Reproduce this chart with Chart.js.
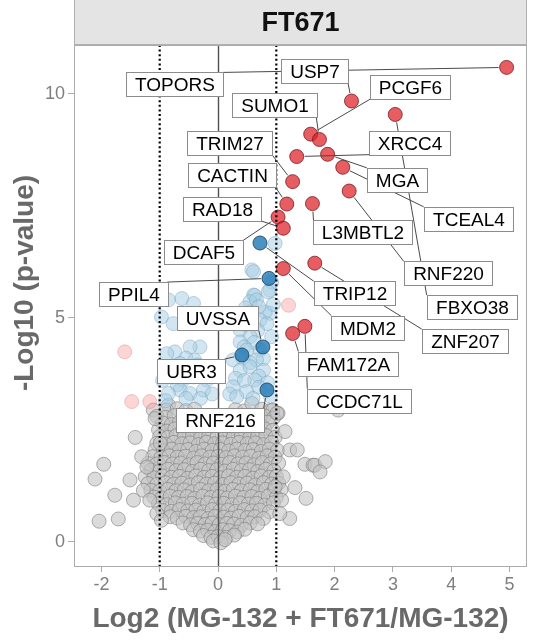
<!DOCTYPE html>
<html>
<head>
<meta charset="utf-8">
<script src="https://cdn.jsdelivr.net/npm/chart.js@4.4.1/dist/chart.umd.min.js"></script>
<style>
  html, body { margin: 0; padding: 0; background: #ffffff; }
  #wrap { width: 541px; height: 640px; }
</style>
</head>
<body>
<div id="wrap"><canvas id="volcano" width="541" height="640"></canvas></div>
<script>
// ---- chart text ----
const panelTitle = 'FT671';
const xTitle = 'Log2 (MG-132 + FT671/MG-132)';
const yTitle = '-Log10 (p-value)';

// ---- axes ----
const xLimits = [-2.47, 5.3];
const yLimits = [-0.54, 11.09];
const xTickValues = [-2, -1, 0, 1, 2, 3, 4, 5];
const yTickValues = [0, 5, 10];
const foldChangeCutoffs = [-1, 1];

// ---- labelled hits, log2 fold change > 1 (red) ----
const strongGenes = ['TOPORS', 'USP7', 'FBXO38', 'PCGF6', 'SUMO1', 'MGA', 'XRCC4', 'TCEAL4', 'TRIM27',
  'RNF220', 'CACTIN', 'L3MBTL2', 'DCAF5', 'RAD18', 'ZNF207', 'MDM2', 'CCDC71L', 'FAM172A'];
const strongLog2FC = [4.95, 2.29, 3.04, 1.59, 1.74, 1.88, 1.35, 2.14, 1.28,
  2.25, 1.18, 1.62, 1.03, 1.12, 1.66, 1.12, 1.49, 1.28];
const strongNegLogP = [10.59, 9.84, 9.54, 9.10, 8.98, 8.65, 8.60, 8.36, 8.04,
  7.83, 7.54, 7.55, 7.25, 7.00, 6.22, 6.10, 4.81, 4.65];

// ---- labelled hits below the fold-change cutoff (blue) ----
const moderateGenes = ['TRIP12', 'PPIL4', 'UVSSA', 'UBR3', 'RNF216'];
const moderateLog2FC = [0.72, 0.875, 0.77, 0.41, 0.84];
const moderateNegLogP = [6.67, 5.88, 4.35, 4.17, 3.39];

// ---- unlabelled proteins: [log2 fold change, -log10 p] ----
const paleRedProteins = [[-1.60, 4.24], [-1.48, 3.13], [-1.17, 3.13], [1.21, 5.28]];

const paleBlueProteins = [
  [0.98, 6.66], [0.58, 6.07], [0.61, 6.03], [0.92, 5.80], [0.89, 5.62], [0.86, 5.58], [0.61, 5.51],
  [0.63, 5.50], [0.55, 5.36], [0.66, 5.40], [-0.62, 5.43], [-0.85, 5.40], [-0.42, 5.32], [-0.97, 5.02],
  [-0.77, 4.87], [0.89, 5.10], [0.81, 5.13], [0.55, 5.13], [0.58, 5.10], [0.95, 5.30], [0.70, 5.25],
  [0.47, 5.22], [0.38, 4.95], [0.72, 4.95], [0.84, 4.87], [0.47, 4.85], [0.68, 4.72], [0.92, 4.58],
  [0.38, 4.73], [0.55, 4.58], [0.62, 4.45], [0.38, 4.46], [0.45, 4.35], [0.49, 4.28], [0.72, 4.28],
  [0.78, 4.09], [0.66, 4.06], [0.42, 4.10], [0.55, 4.00], [0.26, 4.06], [0.38, 3.83], [0.55, 3.91],
  [0.78, 3.83], [0.70, 3.70], [0.30, 3.65], [0.63, 3.61], [0.45, 3.60], [0.85, 3.55], [0.70, 3.45],
  [0.26, 3.46], [0.49, 3.35], [0.20, 3.30], [0.32, 3.24], [0.60, 3.20], [0.90, 3.25],
  [-0.31, 4.35], [-0.48, 4.35], [-0.74, 4.24], [-0.88, 4.20], [-0.55, 4.10], [-0.40, 4.05],
  [-0.65, 3.98], [-0.35, 3.95], [-0.82, 3.91], [-0.20, 3.85], [-0.77, 3.68], [-0.42, 3.68],
  [-0.60, 3.61], [-0.19, 3.61], [-0.95, 3.60], [-0.70, 3.50], [-0.25, 3.39], [-0.65, 3.39],
  [-0.48, 3.31], [-0.85, 3.31], [-0.10, 3.30], [-0.30, 3.20], [-0.55, 3.20], [-0.90, 3.15]
];

const greyProteins = [
  // upper rim of the cloud
  [-1.11, 2.94], [-0.85, 3.05], [-0.88, 2.94], [-0.70, 2.97], [-0.55, 2.93], [-0.40, 2.96],
  [0.30, 2.95], [0.45, 2.92], [0.58, 3.09], [0.75, 2.96], [0.90, 2.93], [1.03, 2.87], [0.94, 2.94],
  [-1.05, 2.80], [-0.90, 2.78], [-0.75, 2.82], [-0.60, 2.77], [-0.45, 2.81], [-0.30, 2.79],
  [0.20, 2.80], [0.35, 2.77], [0.50, 2.82], [0.65, 2.79], [0.80, 2.81], [0.95, 2.76],
  [-0.95, 2.65], [-0.80, 2.62], [-0.66, 2.67], [-0.52, 2.63], [-0.38, 2.66], [-0.24, 2.62],
  [0.16, 2.64], [0.30, 2.67], [0.44, 2.62], [0.58, 2.66], [0.72, 2.63], [0.86, 2.67],
  [-1.02, 2.50], [-0.88, 2.47], [-0.74, 2.52], [-0.60, 2.49], [-0.46, 2.51], [-0.32, 2.48],
  [-0.18, 2.52], [0.10, 2.49], [0.24, 2.52], [0.38, 2.47], [0.52, 2.51], [0.66, 2.48], [0.80, 2.52],
  [0.94, 2.49],
  // body of the cloud
  [-1.00, 2.35], [-0.86, 2.33], [-0.72, 2.37], [-0.58, 2.34], [-0.44, 2.36], [-0.30, 2.32],
  [-0.16, 2.36], [-0.02, 2.34], [0.12, 2.37], [0.26, 2.33], [0.40, 2.36], [0.54, 2.32], [0.68, 2.35],
  [0.82, 2.37], [0.98, 2.33],
  [-1.05, 2.20], [-0.90, 2.18], [-0.76, 2.22], [-0.62, 2.19], [-0.48, 2.21], [-0.34, 2.17],
  [-0.20, 2.22], [-0.06, 2.19], [0.08, 2.21], [0.22, 2.18], [0.36, 2.22], [0.50, 2.19], [0.64, 2.21],
  [0.78, 2.17], [0.92, 2.22],
  [-1.08, 2.05], [-0.94, 2.03], [-0.80, 2.07], [-0.66, 2.04], [-0.52, 2.06], [-0.38, 2.02],
  [-0.24, 2.07], [-0.10, 2.04], [0.04, 2.06], [0.18, 2.03], [0.32, 2.07], [0.46, 2.04], [0.60, 2.06],
  [0.74, 2.02], [0.88, 2.07], [1.02, 2.04],
  [-1.12, 1.90], [-0.98, 1.88], [-0.84, 1.92], [-0.70, 1.89], [-0.56, 1.91], [-0.42, 1.87],
  [-0.28, 1.92], [-0.14, 1.89], [0.00, 1.91], [0.14, 1.88], [0.28, 1.92], [0.42, 1.89], [0.56, 1.91],
  [0.70, 1.87], [0.84, 1.92], [0.98, 1.89],
  [-1.20, 1.75], [-1.06, 1.73], [-0.92, 1.77], [-0.78, 1.74], [-0.64, 1.76], [-0.50, 1.72],
  [-0.36, 1.77], [-0.22, 1.74], [-0.08, 1.76], [0.06, 1.73], [0.20, 1.77], [0.34, 1.74], [0.48, 1.76],
  [0.62, 1.72], [0.76, 1.77], [0.90, 1.74], [1.04, 1.76],
  [-1.15, 1.60], [-1.00, 1.58], [-0.86, 1.62], [-0.72, 1.59], [-0.58, 1.61], [-0.44, 1.57],
  [-0.30, 1.62], [-0.16, 1.59], [-0.02, 1.61], [0.12, 1.58], [0.26, 1.62], [0.40, 1.59], [0.54, 1.61],
  [0.68, 1.57], [0.82, 1.62], [0.96, 1.59],
  [-1.25, 1.45], [-1.10, 1.43], [-0.95, 1.47], [-0.80, 1.44], [-0.66, 1.46], [-0.52, 1.42],
  [-0.38, 1.47], [-0.24, 1.44], [-0.10, 1.46], [0.04, 1.43], [0.18, 1.47], [0.32, 1.44], [0.46, 1.46],
  [0.60, 1.42], [0.74, 1.47], [0.88, 1.44], [1.00, 1.46],
  [-1.20, 1.30], [-1.05, 1.28], [-0.90, 1.32], [-0.76, 1.29], [-0.62, 1.31], [-0.48, 1.27],
  [-0.34, 1.32], [-0.20, 1.29], [-0.06, 1.31], [0.08, 1.28], [0.22, 1.32], [0.36, 1.29], [0.50, 1.31],
  [0.64, 1.27], [0.78, 1.32], [0.92, 1.29], [1.04, 1.31],
  [-1.15, 1.15], [-1.00, 1.13], [-0.86, 1.17], [-0.72, 1.14], [-0.58, 1.16], [-0.44, 1.12],
  [-0.30, 1.17], [-0.16, 1.14], [-0.02, 1.16], [0.12, 1.13], [0.26, 1.17], [0.40, 1.14], [0.55, 1.16],
  [0.68, 1.12], [0.82, 1.17], [0.96, 1.14], [1.08, 1.16],
  [-1.10, 1.00], [-0.96, 0.98], [-0.82, 1.02], [-0.68, 0.99], [-0.53, 1.01], [-0.40, 0.97],
  [-0.26, 1.02], [-0.12, 0.99], [0.02, 1.01], [0.16, 0.98], [0.30, 1.02], [0.44, 0.99], [0.58, 1.01],
  [0.72, 0.97], [0.86, 1.02], [1.00, 0.99],
  [-1.02, 0.85], [-0.88, 0.83], [-0.73, 0.87], [-0.60, 0.84], [-0.45, 0.86], [-0.32, 0.82],
  [-0.18, 0.87], [-0.04, 0.84], [0.10, 0.86], [0.24, 0.83], [0.38, 0.87], [0.52, 0.84], [0.66, 0.86],
  [0.80, 0.82], [0.95, 0.87],
  [-0.95, 0.70], [-0.80, 0.68], [-0.66, 0.72], [-0.52, 0.69], [-0.38, 0.71], [-0.25, 0.67],
  [-0.10, 0.72], [0.03, 0.69], [0.17, 0.71], [0.30, 0.68], [0.45, 0.72], [0.58, 0.69], [0.72, 0.71],
  [0.88, 0.67],
  [-0.82, 0.56], [-0.70, 0.53], [-0.55, 0.57], [-0.42, 0.54], [-0.30, 0.56], [-0.17, 0.52],
  [-0.05, 0.57], [0.10, 0.55], [0.22, 0.53], [0.36, 0.57], [0.50, 0.54], [0.63, 0.56], [0.78, 0.52],
  [-0.60, 0.42], [-0.47, 0.38], [-0.35, 0.41], [-0.22, 0.39], [-0.10, 0.42], [0.02, 0.38],
  [0.15, 0.41], [0.27, 0.40], [0.40, 0.37], [0.55, 0.42], [0.68, 0.40],
  [-0.42, 0.27], [-0.30, 0.24], [-0.18, 0.26], [-0.05, 0.23], [0.08, 0.27], [0.20, 0.25],
  [0.33, 0.22], [0.46, 0.28],
  [-0.25, 0.14], [-0.12, 0.10], [0.00, 0.12], [0.14, 0.10], [0.28, 0.15],
  [-0.08, 0.02], [0.05, -0.02], [0.12, 0.05],
  // scattered left of the cloud
  [-1.42, 2.33], [-1.96, 1.73], [-2.11, 1.40], [-1.77, 1.04], [-2.04, 0.46], [-1.71, 0.51],
  [-1.51, 1.38], [-1.31, 1.90], [-1.22, 1.67], [-1.45, 0.93], [-1.28, 1.15], [-1.17, 0.93],
  [-1.08, 2.75], [-1.05, 0.63], [-0.99, 2.20], [-0.97, 0.48],
  // scattered right of the cloud
  [1.15, 2.46], [1.01, 2.87], [1.23, 2.05], [1.36, 2.05], [1.49, 1.73], [1.63, 1.71], [1.66, 1.71],
  [1.84, 1.79], [1.75, 1.56], [1.32, 1.21], [1.51, 0.97], [1.23, 0.52], [1.12, 1.45], [0.98, 1.23],
  [1.09, 0.93], [1.06, 0.63], [2.06, 2.94]
];

// ---- where each gene's label box is centred (axis units) ----
const labelPlacement = {
  TOPORS: [-0.75, 10.21], USP7: [1.66, 10.50], PCGF6: [3.30, 10.15], SUMO1: [0.96, 9.75],
  XRCC4: [3.29, 8.91], TRIM27: [0.20, 8.91], MGA: [3.07, 8.08], CACTIN: [0.23, 8.19],
  RAD18: [0.07, 7.43], TCEAL4: [4.29, 7.21], L3MBTL2: [2.49, 6.91], DCAF5: [-0.25, 6.46],
  RNF220: [3.94, 5.99], TRIP12: [2.34, 5.55], PPIL4: [-1.46, 5.53], FBXO38: [4.35, 5.24],
  MDM2: [2.57, 4.78], UVSSA: [0.00, 4.99], ZNF207: [4.23, 4.48], FAM172A: [2.24, 3.98],
  UBR3: [-0.47, 3.81], CCDC71L: [2.42, 3.15], RNF216: [0.03, 2.71]
};

// ---- drawing ----
const FONT = '"Liberation Sans", Arial, Helvetica, sans-serif';
const POINT_R = 7;

const toXY = pairs => pairs.map(([x, y]) => ({ x, y }));
const strongPoints = strongGenes.map((g, i) => ({ x: strongLog2FC[i], y: strongNegLogP[i], name: g }));
const moderatePoints = moderateGenes.map((g, i) => ({ x: moderateLog2FC[i], y: moderateNegLogP[i], name: g }));

function pointSet(label, data, fill, edge, order) {
  return {
    label, data, order,
    backgroundColor: fill, borderColor: edge, borderWidth: 1,
    pointRadius: POINT_R, pointHoverRadius: POINT_R
  };
}

function drawLabels(chart) {
  const { ctx, scales: { x, y } } = chart;
  const boxH = 24, padX = 8.5, fontPx = 19;
  ctx.save();
  ctx.font = fontPx + 'px ' + FONT;
  const boxes = strongPoints.concat(moderatePoints).map(p => {
    const [lx, ly] = labelPlacement[p.name];
    const cx = x.getPixelForValue(lx), cy = y.getPixelForValue(ly);
    const w = ctx.measureText(p.name).width + 2 * padX;
    return {
      name: p.name, cx, cy,
      l: cx - w / 2, r: cx + w / 2, t: cy - boxH / 2, b: cy + boxH / 2,
      px: x.getPixelForValue(p.x), py: y.getPixelForValue(p.y)
    };
  });
  // leader segments: from the nearest spot on the box to the edge of the point
  ctx.strokeStyle = '#4a4a4a';
  ctx.lineWidth = 1;
  boxes.forEach(bx => {
    const sx = Math.min(Math.max(bx.px, bx.l), bx.r);
    const sy = Math.min(Math.max(bx.py, bx.t), bx.b);
    const dx = bx.px - sx, dy = bx.py - sy, d = Math.hypot(dx, dy);
    if (d <= POINT_R + 3) return;
    const ex = bx.px - dx / d * (POINT_R + 1), ey = bx.py - dy / d * (POINT_R + 1);
    ctx.beginPath();
    ctx.moveTo(sx, sy);
    ctx.lineTo(ex, ey);
    ctx.stroke();
  });
  // label boxes
  boxes.forEach(bx => {
    const l = Math.round(bx.l) + 0.5, t = Math.round(bx.t) + 0.5;
    const w = Math.round(bx.r - bx.l), h = boxH;
    ctx.fillStyle = '#ffffff';
    ctx.fillRect(l, t, w, h);
    ctx.strokeStyle = '#8c8c8c';
    ctx.strokeRect(l, t, w, h);
    ctx.fillStyle = '#000000';
    ctx.textAlign = 'center';
    ctx.textBaseline = 'alphabetic';
    ctx.fillText(bx.name, l + w / 2, t + h / 2 + fontPx * 0.716 / 2);
  });
  ctx.restore();
}

const volcanoDecor = {
  id: 'volcanoDecor',
  beforeDraw(chart) {
    const { ctx, chartArea: a } = chart;
    ctx.save();
    ctx.fillStyle = '#ffffff';
    ctx.fillRect(0, 0, chart.width, chart.height);
    // facet strip
    ctx.fillStyle = '#e4e4e4';
    ctx.fillRect(a.left, 0, a.right - a.left, a.top);
    ctx.strokeStyle = '#b0b0b0';
    ctx.lineWidth = 1;
    ctx.strokeRect(a.left + 0.5, -0.5, a.right - a.left - 1, a.top);
    ctx.fillStyle = '#111111';
    ctx.font = 'bold 27px ' + FONT;
    ctx.textAlign = 'center';
    ctx.textBaseline = 'alphabetic';
    ctx.fillText(panelTitle, (a.left + a.right) / 2, 31);
    ctx.restore();
  },
  afterDatasetsDraw(chart) {
    const { ctx, chartArea: a, scales: { x } } = chart;
    ctx.save();
    // zero line
    const x0 = Math.round(x.getPixelForValue(0)) + 0.5;
    ctx.strokeStyle = '#505050';
    ctx.lineWidth = 1.4;
    ctx.beginPath(); ctx.moveTo(x0, a.top); ctx.lineTo(x0, a.bottom); ctx.stroke();
    // fold-change cutoffs
    ctx.strokeStyle = '#000000';
    ctx.lineWidth = 2.2;
    ctx.setLineDash([2, 2.6]);
    foldChangeCutoffs.forEach(v => {
      const xp = x.getPixelForValue(v);
      ctx.beginPath(); ctx.moveTo(xp, a.top); ctx.lineTo(xp, a.bottom); ctx.stroke();
    });
    ctx.setLineDash([]);
    // panel border
    ctx.strokeStyle = '#ababab';
    ctx.lineWidth = 1;
    ctx.strokeRect(a.left + 0.5, a.top + 0.5, a.right - a.left - 1, a.bottom - a.top);
    ctx.restore();
    drawLabels(chart);
  },
  afterDraw(chart) {
    const { ctx, chartArea: a } = chart;
    ctx.save();
    ctx.fillStyle = '#696969';
    ctx.font = 'bold 28px ' + FONT;
    ctx.textAlign = 'center';
    ctx.textBaseline = 'alphabetic';
    ctx.fillText(xTitle, (a.left + a.right) / 2, 627);
    // y title is centred over panel plus strip
    ctx.translate(33, a.bottom / 2);
    ctx.rotate(-Math.PI / 2);
    ctx.fillText(yTitle, 0, 0);
    ctx.restore();
  }
};

new Chart(document.getElementById('volcano'), {
  type: 'scatter',
  data: {
    datasets: [
      pointSet('strong', strongPoints, 'rgba(222,30,36,0.72)', 'rgba(110,20,25,0.75)', 1),
      pointSet('moderate', moderatePoints, 'rgba(31,120,180,0.8)', 'rgba(25,60,95,0.8)', 2),
      pointSet('paleRed', toXY(paleRedProteins), 'rgba(251,154,153,0.42)', 'rgba(215,140,140,0.45)', 3),
      pointSet('paleBlue', toXY(paleBlueProteins), 'rgba(166,206,227,0.5)', 'rgba(120,160,190,0.45)', 4),
      pointSet('grey', toXY(greyProteins), 'rgba(195,195,195,0.6)', 'rgba(125,125,125,0.6)', 5)
    ]
  },
  plugins: [volcanoDecor],
  options: {
    responsive: false,
    devicePixelRatio: 1,
    animation: false,
    events: [],
    layout: { padding: { left: 0, right: 14, top: 45, bottom: 0 } },
    plugins: { legend: { display: false }, tooltip: { enabled: false } },
    scales: {
      x: {
        type: 'linear',
        min: xLimits[0], max: xLimits[1],
        afterBuildTicks: s => { s.ticks = xTickValues.map(v => ({ value: v })); },
        afterFit: s => { s.height = 74; },
        border: { display: false },
        grid: { drawOnChartArea: false, drawTicks: true, tickLength: 6, tickColor: '#ababab' },
        ticks: { font: { family: FONT, size: 18 }, color: '#7f7f7f', padding: 2, maxRotation: 0 }
      },
      y: {
        type: 'linear',
        min: yLimits[0], max: yLimits[1],
        afterBuildTicks: s => { s.ticks = yTickValues.map(v => ({ value: v })); },
        afterFit: s => { s.width = 74; },
        border: { display: false },
        grid: { drawOnChartArea: false, drawTicks: true, tickLength: 6, tickColor: '#ababab' },
        ticks: { font: { family: FONT, size: 18 }, color: '#7f7f7f', padding: 3 }
      }
    }
  }
});
</script>
</body>
</html>
